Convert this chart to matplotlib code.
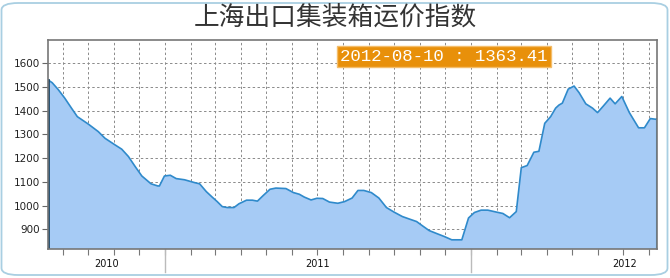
import matplotlib

matplotlib.use("Agg")
import matplotlib.dates as mdates
import matplotlib.pyplot as plt
import numpy as np
from matplotlib.patches import FancyBboxPatch

# ── Data ──
dates = [
    "2010-08-14", "2010-08-19", "2010-08-26", "2010-09-03", "2010-09-11", "2010-09-18",
    "2010-10-01", "2010-10-13", "2010-10-21", "2010-11-02", "2010-11-10", "2010-11-18",
    "2010-11-26", "2010-12-04", "2010-12-15", "2010-12-23", "2010-12-25", "2010-12-31",
    "2011-01-07", "2011-01-14", "2011-01-24", "2011-02-05", "2011-02-11", "2011-02-19",
    "2011-02-26", "2011-03-04", "2011-03-10", "2011-03-16", "2011-03-24", "2011-03-30",
    "2011-04-08", "2011-04-15", "2011-04-21", "2011-04-28", "2011-05-06", "2011-05-13",
    "2011-05-25", "2011-06-03", "2011-06-10", "2011-06-16", "2011-06-24", "2011-07-01",
    "2011-07-08", "2011-07-16", "2011-07-26", "2011-08-03", "2011-08-12", "2011-08-19",
    "2011-08-26", "2011-09-04", "2011-09-13", "2011-09-22", "2011-10-01", "2011-10-11",
    "2011-10-19", "2011-10-28", "2011-11-04", "2011-11-12", "2011-11-22", "2011-11-30",
    "2011-12-09", "2011-12-21", "2011-12-29", "2012-01-05", "2012-01-13", "2012-01-21",
    "2012-01-31", "2012-02-08", "2012-02-16", "2012-02-24", "2012-03-01", "2012-03-08",
    "2012-03-16", "2012-03-22", "2012-03-29", "2012-04-05", "2012-04-11", "2012-04-15",
    "2012-04-19", "2012-04-26", "2012-05-03", "2012-05-09", "2012-05-17", "2012-05-25",
    "2012-05-31", "2012-06-07", "2012-06-15", "2012-06-21", "2012-06-29", "2012-07-08",
    "2012-07-19", "2012-07-26", "2012-08-02", "2012-08-10",
]
index = [
    1530, 1518, 1490, 1453, 1411, 1375,
    1344, 1312, 1284, 1256, 1238, 1207,
    1165, 1125, 1092, 1083, 1083, 1125,
    1128, 1114, 1109, 1097, 1092, 1059,
    1036, 1017, 996, 992, 992, 1008,
    1023, 1023, 1019, 1043, 1069, 1074,
    1072, 1055, 1048, 1036, 1024, 1031,
    1030, 1015, 1010, 1017, 1032, 1064,
    1064, 1055, 1032, 992, 973, 954,
    944, 933, 915, 895, 881, 870,
    856, 856, 948, 971, 981, 981,
    973, 967, 949, 975, 1160, 1169,
    1225, 1229, 1347, 1375, 1411, 1424,
    1432, 1491, 1504, 1476, 1429, 1411,
    1392, 1420, 1453, 1429, 1460, 1392,
    1328, 1328, 1367, 1363.41,
]
y_ticks = [900, 1000, 1100, 1200, 1300, 1400, 1500, 1600]
years = ["2010", "2011", "2012"]
year_label_dates = ["2010-10-23", "2011-07-02", "2012-07-02"]
title = "上海出口集装箱运价指数"

# ── Style ──
FILL = "#a6cbf5"
LINE = "#2f8acb"
GRID = "#8a8a8a"

x = np.array(dates, dtype="datetime64[D]")
y = np.array(index)

fig = plt.figure(figsize=(6.7, 2.78), dpi=100)
W, H = 670, 278

# rounded outer frame (behind the axes)
frame = FancyBboxPatch((1.5 / W, 3 / H), 666 / W, 272 / H,
                       boxstyle="round,pad=0,rounding_size=0.025",
                       transform=fig.transFigure, fc="white", ec="#a9cfe2", lw=1.3,
                       zorder=-10)
fig.patches.append(frame)

fig.text(0.5, 1 - 18 / H, title, ha="center", va="center", fontsize=18.5,
         color="#333333", family=["Noto Sans CJK SC", "DejaVu Sans"])

ax = fig.add_axes([48 / W, 28.7 / H, 609 / W, 209.3 / H])
ax.set_facecolor("none")

ax.fill_between(x, y, 0, color=FILL, lw=0, zorder=2)
ax.plot(x, y, color=LINE, lw=1.2, zorder=3)
ax.plot([x[-1], x[-1]], [0, y[-1]], color=LINE, lw=1.5, zorder=3)
ax.plot([x[0], x[0]], [0, y[0]], color="#1d4766", lw=2, zorder=4)

ax.set_yticks(y_ticks)
ax.set_yticklabels([str(v) for v in y_ticks], fontsize=7.5, color="#222222")
ax.tick_params(axis="y", length=4, width=0.8, color="#666666", pad=2)

ax.xaxis.set_major_locator(mdates.MonthLocator())
ax.tick_params(axis="x", length=4, width=0.8, color="#777777", labelbottom=False)
ax.grid(True, color=GRID, ls=(0, (2.5, 2.5)), lw=0.7, zorder=1)

for s in ["top", "right", "bottom", "left"]:
    ax.spines[s].set_color("#777777")
    ax.spines[s].set_linewidth(1.2)
    ax.spines[s].set_zorder(5)

# year separators and labels
for yr in years[1:]:
    d = np.datetime64(f"{yr}-01-01")
    ax.plot([d, d], [-0.11, 0], color="#bbbbbb", lw=1, clip_on=False,
            transform=ax.get_xaxis_transform())
for yr, d in zip(years, year_label_dates):
    ax.text(np.datetime64(d), -0.07, yr, transform=ax.get_xaxis_transform(),
            ha="center", va="center", fontsize=7, color="#111111")

ax.set_xlim(x[0], x[-1])
ax.set_ylim(816, 1698)

# last value badge
fig.text(444 / W, 1 - 56.5 / H, f"{dates[-1]} : {index[-1]:.2f}", ha="center", va="center",
         fontsize=12.5, color="white", family="Liberation Mono",
         bbox=dict(boxstyle="square,pad=0.2", fc="#e8900a", ec="#f4bd6a", lw=1))

fig.savefig("out.png", dpi=100, facecolor="white")
